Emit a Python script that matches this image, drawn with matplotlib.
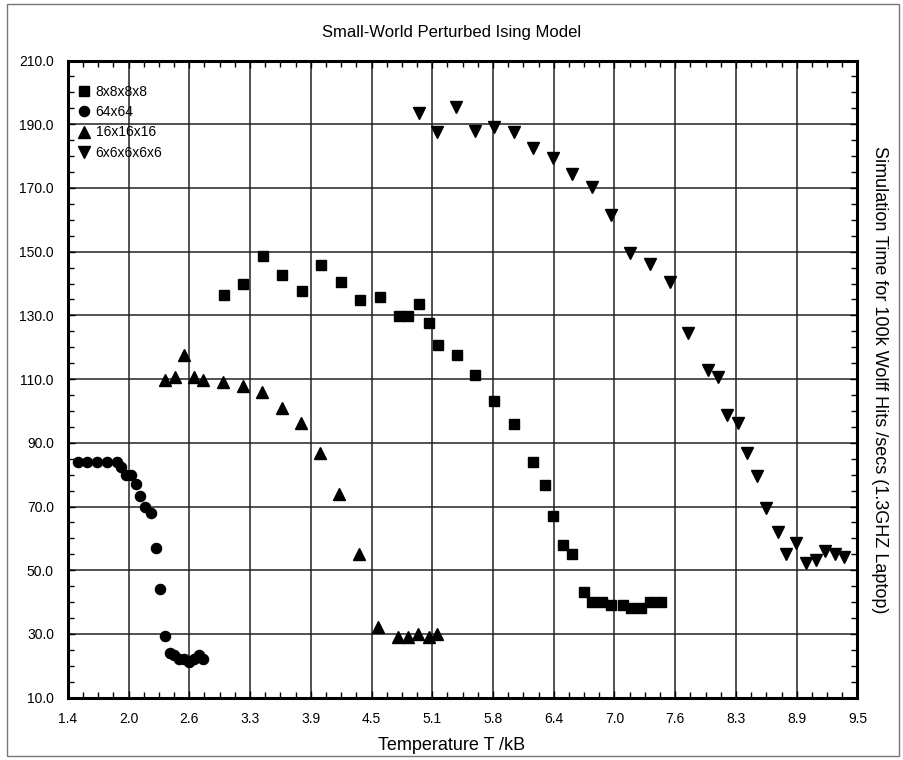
import matplotlib.pyplot as plt
import numpy as np
from matplotlib.patches import Rectangle
from matplotlib.ticker import AutoMinorLocator

plt.rcParams['font.family'] = ['Liberation Sans', 'DejaVu Sans']

# 8x8x8x8
sq_T = [3.0, 3.2, 3.4, 3.6, 3.8, 4.0, 4.2, 4.4, 4.6, 4.8, 4.89, 5.0, 5.1, 5.2,
        5.39, 5.58, 5.77, 5.98, 6.17, 6.29, 6.38, 6.48, 6.57, 6.69, 6.78, 6.88,
        6.97, 7.09, 7.18, 7.28, 7.37, 7.49]
sq_t = [136.3, 139.8, 148.5, 142.6, 137.6, 145.7, 140.4, 134.7, 135.7, 129.7, 129.7,
        133.5, 127.5, 120.6, 117.5, 111.4, 103.0, 96.0, 83.9, 76.7, 66.9, 57.8, 55.0,
        43.1, 39.9, 39.9, 39.0, 39.0, 38.1, 38.1, 39.9, 39.9]

# 64x64
ci_T = [1.5, 1.6, 1.7, 1.8, 1.9, 1.95, 2.0, 2.05, 2.1, 2.14, 2.19, 2.25, 2.3, 2.35,
        2.4, 2.45, 2.49, 2.54, 2.59, 2.64, 2.69, 2.745, 2.79]
ci_t = [84.0, 84.0, 84.0, 84.0, 84.0, 82.3, 80.0, 80.0, 77.1, 73.3, 70.0, 68.1, 57.0,
        44.1, 29.4, 24.1, 23.3, 22.2, 22.2, 21.2, 22.2, 23.5, 22.2]

# 16x16x16
tu_T = [2.4, 2.5, 2.59, 2.69, 2.79, 2.99, 3.2, 3.39, 3.6, 3.79, 3.99, 4.18, 4.39,
        4.58, 4.79, 4.89, 4.99, 5.1, 5.19]
tu_t = [109.7, 110.6, 117.6, 110.6, 109.7, 109.0, 107.8, 106.0, 100.8, 96.1, 86.7,
        73.9, 55.0, 32.1, 29.0, 29.1, 30.0, 29.1, 30.0]

# 6x6x6x6x6
td_T = [5.0, 5.19, 5.38, 5.58, 5.77, 5.98, 6.17, 6.38, 6.57, 6.78, 6.97, 7.17, 7.37,
        7.58, 7.76, 7.97, 8.07, 8.16, 8.27, 8.37, 8.47, 8.56, 8.68, 8.77, 8.87, 8.97,
        9.07, 9.17, 9.27, 9.36]
td_t = [193.4, 187.7, 195.5, 188.0, 189.0, 187.7, 182.4, 179.5, 174.3, 170.4, 161.5,
        149.7, 146.0, 140.4, 124.4, 112.9, 110.6, 98.7, 96.1, 86.9, 79.6, 69.5, 62.1,
        55.1, 58.5, 52.4, 53.2, 56.1, 55.1, 54.3]

x_ticks = np.linspace(1.4, 9.5, 14)
y_ticks = np.arange(10, 211, 20)

fig = plt.figure(figsize=(9.04, 7.6), dpi=100)
ax = fig.add_axes([0.075, 0.082, 0.8735, 0.8383])

ax.plot(sq_T, sq_t, 's', color='black', ms=7, label='8x8x8x8')
ax.plot(ci_T, ci_t, 'o', color='black', ms=7.3, label='64x64')
ax.plot(tu_T, tu_t, '^', color='black', ms=8, label='16x16x16')
ax.plot(td_T, td_t, 'v', color='black', ms=8, label='6x6x6x6x6')

ax.set_xlim(1.4, 9.5)
ax.set_ylim(10, 210)
ax.set_xticks(x_ticks)
ax.set_xticklabels([f"{v:.1f}" for v in x_ticks])
ax.set_yticks(y_ticks)
ax.set_yticklabels([f"{v:.1f}" for v in y_ticks])
ax.xaxis.set_minor_locator(AutoMinorLocator(4))
ax.yaxis.set_minor_locator(AutoMinorLocator(4))
ax.tick_params(which='both', direction='in', top=True, right=True, labelsize=10, width=1)
ax.tick_params(which='major', length=5, pad=10)
ax.tick_params(which='minor', length=4)
ax.grid(True, which='major', color='#222222', lw=1.1)
for s in ax.spines.values():
    s.set_linewidth(2.2)

ax.legend(loc='upper left', frameon=False, fontsize=10, handletextpad=0.3,
          borderaxespad=0.3, labelspacing=0.45, handlelength=1.0,
          bbox_to_anchor=(0.0, 0.977))

fig.text(0.5, 1 - 32 / 760, 'Small-World Perturbed Ising Model', ha='center', va='center', fontsize=12)
fig.text(0.5, 1 - 745 / 760, 'Temperature T /kB', ha='center', va='center', fontsize=13)
fig.text(0.973, 0.5, 'Simulation Time for 100k Wolff Hits /secs (1.3GHZ Laptop)',
         rotation=-90, ha='center', va='center', fontsize=13)

fig.patches.append(Rectangle((7 / 904, 4 / 760), 892 / 904, 752 / 760, transform=fig.transFigure,
                             fill=False, ec='#777777', lw=1))

fig.savefig('out.png', dpi=100)
